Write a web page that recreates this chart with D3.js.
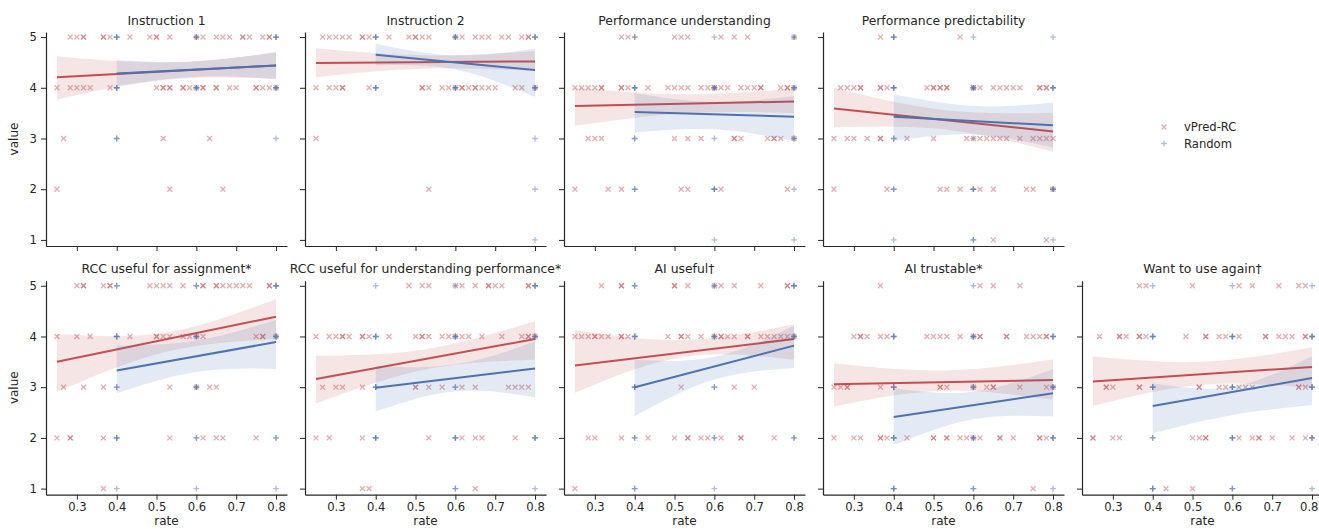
<!DOCTYPE html>
<meta charset="utf-8">
<style>
body { margin: 0; background: #fff; }
svg text { font-family: "DejaVu Sans", sans-serif; fill: #262626; }
.axis path, .axis line { stroke: #262626; }
.axis path { stroke-width: 1.2px; }
</style>
<svg width="1319" height="529"></svg>
<script src="https://d3js.org/d3.v7.min.js"></script>
<script>

var titles = ["Instruction 1", "Instruction 2", "Performance understanding", "Performance predictability",
  "RCC useful for assignment*", "RCC useful for understanding performance*", "AI useful\u2020",
  "AI trustable*", "Want to use again\u2020"];

// vPred-RC answers, per panel, for value 5,4,3,2,1 ; rate given in 60ths
var vpredRates = [
  [[17,18,19,19,22,22,23,26,29,30,30,32,36,37,39,40,41,43,43,44,46,47,47],
   [15,17,18,19,20,23,30,31,31,32,32,34,34,35,36,37,37,39,39,41,42,45,45,46,47,48],
   [16,31,38], [15,32,40], []],
  [[16,17,18,19,20,22,22,23,26,29,30,30,31,32,36,37,39,40,41,43,44,46,47,47],
   [15,17,18,19,19,23,31,31,32,34,35,36,37,37,38,39,39,40,41,42,45,46,48],
   [15], [32], []],
  [[22,23,30,31,32,37,39,41,48],
   [15,16,17,18,19,19,22,22,23,26,29,30,31,32,34,35,36,36,37,38,40,41,42,43,43,46,47,47,48],
   [17,18,19,30,32,34,39,39,40,44,45,45,46,48],
   [15,20,22,31,32,37,47], []],
  [[22,34],
   [16,17,18,19,19,22,22,23,29,30,30,31,31,32,32,36,36,37,39,40,41,42,43,46,46,47,47],
   [15,17,18,20,22,22,26,30,35,36,37,38,39,40,41,43,45,46,47,48],
   [15,23,31,32,34,37,39,44,45,48], [39,47]],
  [[18,19,19,22,23,23,29,30,31,32,34,37,37,39,39,40,41,42,43,44,47,47],
   [15,18,20,26,30,30,31,32,34,35,36,37,45,46,46,48],
   [16,19,22,32,36,38,39],
   [15,17,17,22,32,37,39,40,45], [22]],
  [[29,31,32,36,37,39,41,41,42,43,47,47],
   [15,17,18,19,19,20,22,22,23,26,30,31,31,32,34,35,36,37,38,40,43,46,47,47,48],
   [16,18,19,22,30,30,32,34,37,39,44,45,46,47],
   [15,17,22,32,37,39,40,45], [22,23,39]],
  [[19,22,22,30,30,32,36,37,39,43,47,47],
   [15,16,17,18,18,19,20,22,22,23,29,31,31,32,34,36,37,37,38,39,41,41,43,44,45,46,47,48],
   [31,39,42],
   [17,18,22,26,30,32,32,34,35,37,40,40,45], [15]],
  [[22,37,39,43],
   [18,19,19,20,22,23,29,30,31,32,34,36,37,37,41,41,44,45,46,47,47],
   [15,16,17,17,22,31,31,32,36,38,39,39,43,47,48],
   [15,18,19,22,22,23,26,30,30,32,32,34,35,36,37,40,40,42,46,46,47], [45]],
  [[22,23,30,37,39,43,46,47],
   [16,19,19,20,22,22,23,29,32,32,34,35,37,41,41,43,44,45,47,47],
   [17,17,18,22,22,31,31,34,35,37,38,39,46,46,47],
   [15,15,18,19,30,31,32,32,37,39,40,40,42,45,47], [26,30]]
];

// Random answers: [rate in 60ths, value, how many]
var randomCounts = [
  [[24,5,3],[24,4,3],[24,3,2],[36,5,3],[36,4,3],[48,5,3],[48,4,3],[48,3,1]],
  [[24,5,3],[24,4,3],[36,5,3],[36,4,3],[48,5,3],[48,4,3],[48,3,1],[48,2,1],[48,1,1]],
  [[24,5,2],[24,4,3],[24,3,2],[24,2,2],[36,5,1],[36,4,3],[36,3,1],[36,2,3],[36,1,1],[48,5,2],[48,4,3],[48,3,2],[48,2,1],[48,1,1]],
  [[24,5,3],[24,4,3],[24,3,2],[24,2,2],[24,1,1],[36,5,1],[36,4,3],[36,3,1],[36,2,3],[36,1,2],[48,5,1],[48,4,3],[48,2,3],[48,1,1]],
  [[24,5,2],[24,4,3],[24,3,2],[24,2,3],[24,1,1],[36,5,2],[36,4,3],[36,3,3],[36,2,2],[36,1,1],[48,5,3],[48,4,3],[48,2,2],[48,1,1]],
  [[24,5,1],[24,4,3],[24,3,3],[24,2,3],[36,5,1],[36,4,3],[36,3,2],[36,2,3],[36,1,2],[48,5,3],[48,4,3],[48,2,3],[48,1,1]],
  [[24,5,2],[24,4,3],[24,3,3],[24,2,2],[24,1,2],[36,5,2],[36,4,3],[36,3,2],[36,2,2],[36,1,1],[48,5,3],[48,4,3],[48,2,2]],
  [[24,4,3],[24,3,3],[24,2,3],[24,1,3],[36,5,1],[36,4,3],[36,3,3],[36,2,3],[36,1,2],[48,4,3],[48,3,3],[48,2,3],[48,1,1]],
  [[24,5,1],[24,4,3],[24,3,3],[24,2,2],[24,1,3],[36,5,1],[36,4,3],[36,3,3],[36,2,3],[36,1,2],[48,5,1],[48,4,3],[48,3,3],[48,2,3],[48,1,1]]
];

// fitted lines: value at first and last rate
var vpredFitX = [0.25, 0.8];
var randomFitX = [0.4, 0.8];
var vpredFit = [[4.21,4.44],[4.49,4.52],[3.64,3.73],[3.59,3.14],[3.5,4.39],[3.16,3.95],[3.43,3.95],[3.06,3.14],[3.11,3.4]];
var randomFit = [[4.28,4.44],[4.65,4.35],[3.52,3.43],[3.43,3.26],[3.33,3.89],[2.99,3.37],[3.0,3.82],[2.41,2.88],[2.63,3.18]];

// 95% bands [low, high] at a few rates
var vpredBandX = [0.25, 0.525, 0.8];
var randomBandX = [0.4, 0.6, 0.8];
var vpredBand = [
  [[3.77,4.62],[4.16,4.5],[4.18,4.69]],
  [[4.21,4.78],[4.38,4.64],[4.33,4.72]],
  [[3.25,4.0],[3.5,3.87],[3.5,3.98]],
  [[3.22,4.0],[3.18,3.56],[2.74,3.51]],
  [[2.91,4.05],[3.7,4.08],[3.95,4.74]],
  [[2.68,3.62],[3.35,3.75],[3.54,4.3]],
  [[2.89,4.13],[3.6,3.93],[3.54,4.24]],
  [[2.62,3.47],[2.93,3.33],[2.75,3.55]],
  [[2.63,3.61],[3.05,3.5],[2.98,3.79]]
];
var randomBand = [
  [[4.04,4.55],[4.22,4.52],[4.17,4.71]],
  [[4.44,4.87],[4.36,4.64],[3.82,4.77]],
  [[3.12,3.89],[3.18,3.72],[2.95,3.84]],
  [[2.95,3.87],[3.08,3.64],[2.82,3.71]],
  [[2.88,3.82],[3.3,3.92],[3.36,4.33]],
  [[2.52,3.42],[2.92,3.45],[2.8,3.9]],
  [[2.43,3.54],[3.15,3.6],[3.38,4.21]],
  [[1.86,2.98],[2.37,2.91],[2.42,3.36]],
  [[2.09,3.08],[2.45,3.01],[2.65,3.61]]
];

var values = [5, 4, 3, 2, 1];
var xTicks = [0.3, 0.4, 0.5, 0.6, 0.7, 0.8];
var series = ["vPred-RC", "Random"];
var red = "#c44e52", blue = "#4c72b0";

var svg = d3.select("svg");
var width = +svg.attr("width");
var pw = 241, ph = 214;
var left0 = 46, colStep = 259;
var rowTops = [32, 280.7];

function xMark(r) { return "M" + -r + "," + -r + "L" + r + "," + r + "M" + -r + "," + r + "L" + r + "," + -r; }
function plusMark(r) { return "M" + -r + ",0L" + r + ",0M0," + -r + "L0," + r; }

titles.forEach(function(title, i) {
  var row = i < 4 ? 0 : 1, col = i < 4 ? i : i - 4;
  var left = left0 + col * colStep;
  var x = d3.scaleLinear().domain([0.2225, 0.8275]).range([0, pw]);
  var y = d3.scaleLinear().domain([0.88, 5.1]).range([ph, 0]);
  var g = svg.append("g").attr("transform", "translate(" + left + "," + rowTops[row] + ")");

  var xAxis = d3.axisBottom(x).tickValues(xTicks).tickSize(5).tickSizeOuter(0).tickPadding(3)
      .tickFormat(row == 1 ? d3.format(".1f") : "");
  var yAxis = d3.axisLeft(y).tickValues(values).tickSize(5).tickSizeOuter(0).tickPadding(4)
      .tickFormat(col == 0 ? d3.format("d") : "");
  var xg = g.append("g").attr("class", "axis").attr("transform", "translate(0," + ph + ")").call(xAxis);
  xg.selectAll("text").style("font-size", "11.6px").attr("fill", "#262626");
  g.append("g").attr("class", "axis").call(yAxis)
    .selectAll("text").style("font-size", "11.6px").attr("fill", "#262626");
  g.selectAll(".axis .tick line").attr("stroke", "#262626");

  // the last tick label of the right column would run off the page
  xg.selectAll(".tick").each(function(d) {
    var t = d3.select(this).select("text");
    if (!t.text()) return;
    var b = t.node().getBBox();
    var over = left + x(d) + b.x + b.width - (width - 1);
    if (over > 0) t.attr("x", -over);
  });

  g.append("text").attr("x", pw / 2).attr("y", -7.5).attr("text-anchor", "middle")
    .style("font-size", "12.4px").text(title);
  if (col == 0) {
    g.append("text").attr("transform", "translate(-28," + ph / 2 + ")rotate(-90)")
      .attr("text-anchor", "middle").style("font-size", "12px").text("value");
  }
  if (row == 1) {
    // pulled up a little so the label stays inside the page
    g.append("text").attr("x", pw / 2).attr("y", ph + 30).attr("text-anchor", "middle")
      .style("font-size", "12px").text("rate");
  }

  var area = d3.area().curve(d3.curveNatural)
    .x(function(d) { return x(d[0]); }).y0(function(d) { return y(d[1]); }).y1(function(d) { return y(d[2]); });
  var line = d3.line().x(function(d) { return x(d[0]); }).y(function(d) { return y(d[1]); });

  // vPred-RC
  var pts = [];
  vpredRates[i].forEach(function(rates, j) {
    rates.forEach(function(k) { pts.push([k / 60, values[j]]); });
  });
  g.append("g").selectAll("path").data(pts).enter().append("path")
    .attr("transform", function(d) { return "translate(" + x(d[0]) + "," + y(d[1]) + ")"; })
    .attr("d", xMark(2.45)).attr("stroke", red).attr("stroke-opacity", 0.45).attr("stroke-width", 1.35).attr("fill", "none");
  g.append("path").datum(vpredBandX.map(function(v, j) { return [v, vpredBand[i][j][0], vpredBand[i][j][1]]; }))
    .attr("d", area).attr("fill", red).attr("fill-opacity", 0.15);
  g.append("path").datum(vpredFitX.map(function(v, j) { return [v, vpredFit[i][j]]; }))
    .attr("d", line).attr("stroke", red).attr("stroke-width", 2).attr("fill", "none");

  // Random
  var rpts = [];
  randomCounts[i].forEach(function(d) { for (var n = 0; n < d[2]; n++) rpts.push([d[0] / 60, d[1]]); });
  g.append("g").selectAll("path").data(rpts).enter().append("path")
    .attr("transform", function(d) { return "translate(" + x(d[0]) + "," + y(d[1]) + ")"; })
    .attr("d", plusMark(2.9)).attr("stroke", blue).attr("stroke-opacity", 0.45).attr("stroke-width", 1.35).attr("fill", "none");
  g.append("path").datum(randomBandX.map(function(v, j) { return [v, randomBand[i][j][0], randomBand[i][j][1]]; }))
    .attr("d", area).attr("fill", blue).attr("fill-opacity", 0.15);
  g.append("path").datum(randomFitX.map(function(v, j) { return [v, randomFit[i][j]]; }))
    .attr("d", line).attr("stroke", blue).attr("stroke-width", 2).attr("fill", "none");
});

// legend
var legend = svg.append("g").attr("transform", "translate(1164,127)");
series.forEach(function(s, i) {
  var lg = legend.append("g").attr("transform", "translate(0," + i * 16.5 + ")");
  lg.append("path").attr("d", i == 0 ? xMark(2.45) : plusMark(2.9))
    .attr("stroke", i == 0 ? red : blue).attr("stroke-opacity", 0.45).attr("stroke-width", 1.35).attr("fill", "none");
  lg.append("text").attr("x", 20).attr("dy", "0.35em").style("font-size", "11.6px").text(s);
});

</script>
